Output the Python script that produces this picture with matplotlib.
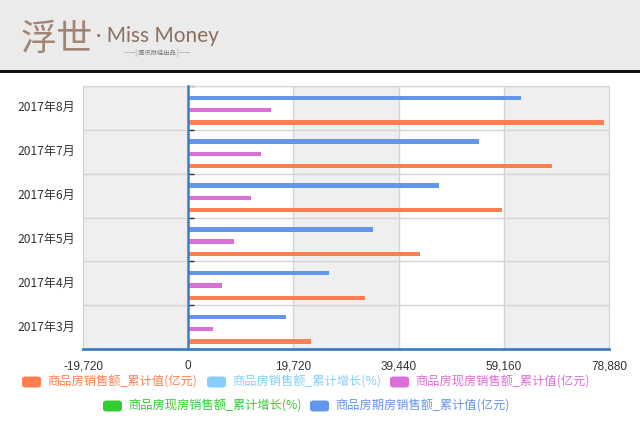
import matplotlib
matplotlib.use("Agg")
import matplotlib.pyplot as plt
from matplotlib.patches import FancyBboxPatch, Rectangle
from matplotlib.transforms import blended_transform_factory
import numpy as np

plt.rcParams['font.family'] = ['Noto Sans CJK SC', 'DejaVu Sans']

categories = ["2017年3月", "2017年4月", "2017年5月", "2017年6月", "2017年7月", "2017年8月"]
series_names = ["商品房销售额_累计值(亿元)", "商品房销售额_累计增长(%)",
                "商品房现房销售额_累计值(亿元)", "商品房现房销售额_累计增长(%)",
                "商品房期房销售额_累计值(亿元)"]
sales_total = [23000, 33100, 43450, 58900, 68200, 77900]
sales_total_growth = [0, 0, 0, 0, 0, 0]
existing_total = [4560, 6400, 8600, 11700, 13600, 15500]
existing_growth = [0, 0, 0, 0, 0, 0]
presale_total = [18300, 26400, 34700, 47000, 54500, 62300]
x_ticks = [-19720, 0, 19720, 39440, 59160, 78880]
x_tick_labels = ["-19,720", "0", "19,720", "39,440", "59,160", "78,880"]

colors = ['#ff7f50', '#87cefa', '#da70d6', '#32cd32', '#6495ed']
series = [sales_total, sales_total_growth, existing_total, existing_growth, presale_total]
offsets = [-0.33, -0.19, -0.05, 0.09, 0.23]

fig = plt.figure(figsize=(6.4, 4.24), dpi=100)
fig.patch.set_facecolor('white')

# header band
fig.patches.append(Rectangle((0, 1 - 70/424), 1, 70/424, transform=fig.transFigure,
                             facecolor='#ebebeb', edgecolor='none', zorder=0))
fig.patches.append(Rectangle((0, 1 - 73/424), 1, 3/424, transform=fig.transFigure,
                             facecolor='#111111', edgecolor='none', zorder=1))
brown = '#a08474'
fig.text(21/640, 1 - 40/424, "浮世", fontsize=26, color=brown, va='center', ha='left')
fig.text(96/640, 1 - 36/424, "· Miss Money", fontsize=15, color='#8c6f5e', va='center',
         ha='left', family=['Lato', 'DejaVu Sans'])
fig.text(157/640, 1 - 53/424, "——| 腾讯财经出品 |——", fontsize=4.5, color='#777777',
         va='center', ha='center')

ax = fig.add_axes([83/640, 75/424, 526/640, 263/424])
ax.set_xlim(x_ticks[0], x_ticks[-1])
ax.set_ylim(-0.5, len(categories) - 0.5)

# alternating column shading
for k in range(len(x_ticks) - 1):
    if k % 2 == 0:
        ax.axvspan(x_ticks[k], x_ticks[k + 1], color='#efefef', zorder=0, lw=0)
for xt in x_ticks[1:-1]:
    ax.axvline(xt, color='#d4d4d4', lw=1, zorder=1)
for b in np.arange(-0.5, len(categories), 1.0):
    ax.axhline(b, color='#d4d4d4', lw=1, zorder=1)

y = np.arange(len(categories))
for s, c, o in zip(series, colors, offsets):
    ax.barh(y + o, s, height=0.1, color=c, zorder=3)

for sp in ['top', 'right']:
    ax.spines[sp].set_color('#d4d4d4')
ax.spines['bottom'].set_color('#3d7fc4')
ax.spines['bottom'].set_linewidth(2)
ax.spines['left'].set_position(('data', 0))
ax.spines['left'].set_color('#3d7fc4')
ax.spines['left'].set_linewidth(1.8)
ax.spines['left'].set_zorder(4)
ax.axvline(x_ticks[0], color='#d4d4d4', lw=1, zorder=1)

ax.set_yticks(np.arange(-0.5, len(categories), 1.0))
ax.set_yticklabels([])
ax.tick_params(axis='y', direction='in', length=4, width=1, color='#333333')
ax.set_xticks(x_ticks)
ax.set_xticklabels(x_tick_labels, family=['Liberation Sans', 'DejaVu Sans'],
                   fontsize=8.5, color='#333333')
ax.tick_params(axis='x', length=0, pad=8)

trans = blended_transform_factory(ax.transAxes, ax.transData)
for i, cat in enumerate(categories):
    ax.text(-8/526, i, cat, transform=trans, ha='right', va='center',
            fontsize=8.7, color='#333333')

# legend
legend_rows = [
    [(22, 0), (207, 1), (390, 2)],
    [(103, 3), (310, 4)],
]
row_y = [382, 406]
for r, row in enumerate(legend_rows):
    yc = 1 - row_y[r] / 424
    for xpix, k in row:
        w, h = 19 / 640, 11 / 424
        p = FancyBboxPatch((xpix / 640, yc - h / 2), w, h,
                           boxstyle="round,pad=0,rounding_size=0.006",
                           transform=fig.transFigure, facecolor=colors[k],
                           edgecolor='none')
        fig.patches.append(p)
        fig.text((xpix + 25) / 640, yc, series_names[k], fontsize=8.8, color=colors[k],
                 va='center', ha='left')

fig.savefig("out.png", dpi=100)
